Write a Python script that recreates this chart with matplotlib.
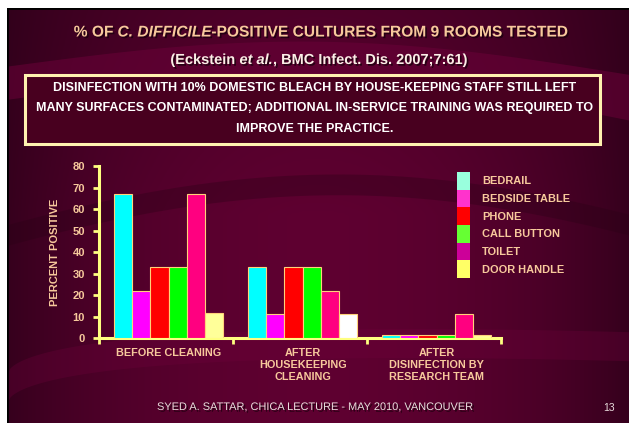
import numpy as np
import matplotlib
matplotlib.use("Agg")
import matplotlib.pyplot as plt
import matplotlib.patheffects as pe
from matplotlib.patches import Patch, Rectangle

plt.rcParams['font.family'] = ['Liberation Sans', 'DejaVu Sans']

# data
groups = ["BEFORE CLEANING", "AFTER\nHOUSEKEEPING\nCLEANING", "AFTER\nDISINFECTION BY\nRESEARCH TEAM"]
surfaces = ["BEDRAIL", "BEDSIDE TABLE", "PHONE", "CALL BUTTON", "TOILET", "DOOR HANDLE"]
bedrail = [67, 33, 1.2]
bedside_table = [22, 11, 1.2]
phone = [33, 33, 1.2]
call_button = [33, 33, 1.2]
toilet = [67, 22, 11]
door_handle = [11.5, 11, 1.2]
series = [bedrail, bedside_table, phone, call_button, toilet, door_handle]

bar_colors = ["#00ffff", "#ff00ff", "#ff0000", "#00ff00", "#ff0080", "#ffff99"]
door_colors = ["#ffff99", "#ffffff", "#ffff99"]
legend_colors = ["#99ffdd", "#ff33cc", "#ff0000", "#66ff33", "#cc0099", "#ffff66"]

peach = "#f7c99c"
yellow = "#ffff80"

fig = plt.figure(figsize=(6.29, 4.23), dpi=100)
fig.patch.set_facecolor("white")
renderer = fig.canvas.get_renderer()

# slide background
bg = fig.add_axes([7 / 629, 0, 1 - 7 / 629, 1 - 8 / 423])
bg.set_xlim(0, 1)
bg.set_ylim(0, 1)
bg.axis("off")
xx = np.linspace(0, 1, 300)
yy = np.linspace(0, 1, 200)
X, Y = np.meshgrid(xx, yy)
w = np.clip(1 - ((X - 0.5) / 0.55) ** 2, 0, 1) ** 0.8 * np.clip(0.4 + 0.6 * (1 - Y) + 0.3, 0, 1)
c_dark = np.array([0.16, 0.0, 0.09])
c_mid = np.array([0.37, 0.0, 0.19])
img = c_dark[None, None, :] + (c_mid - c_dark)[None, None, :] * w[:, :, None]
bg.imshow(img, extent=[0, 1, 0, 1], origin="lower", aspect="auto", zorder=0)
# swirl bands
t = np.linspace(0, 1, 200)
bg.fill_between(t, 0.78 - 0.05 * t + 0.08 * np.sin(np.pi * t),
                0.86 - 0.02 * t + 0.07 * np.sin(np.pi * t),
                color="#6a0038", alpha=0.55, lw=0, zorder=1)
bg.fill_between(t, 0.45 + 0.2 * np.sin(2.2 * t + 0.4) - 0.1,
                0.5 + 0.2 * np.sin(2.2 * t + 0.4) - 0.1,
                color="#2a0016", alpha=0.35, lw=0, zorder=1)
bg.fill_between(t, 0.05 + 0.35 * t ** 0.6 - 0.25 * t,
                0.12 + 0.35 * t ** 0.6 - 0.25 * t,
                color="#70003c", alpha=0.3, lw=0, zorder=1)
bg.add_line(plt.Line2D([0, 0], [0, 1], color="black", lw=2, zorder=2))
bg.add_line(plt.Line2D([0, 1], [1, 1], color="black", lw=2, zorder=2))

shadow = [pe.SimplePatchShadow(offset=(1.2, -1.2), shadow_rgbFace="#200010", alpha=0.9), pe.Normal()]


def text_runs(xc, y, runs, **kw):
    # draw a line made of normal / italic pieces, centred at xc (figure coords)
    pieces = []
    for s, style in runs:
        tt = fig.text(0, y, s, style=style, va="center", ha="left", **kw)
        pieces.append(tt)
    widths = [p.get_window_extent(renderer).width / fig.bbox.width for p in pieces]
    x0 = xc - sum(widths) / 2
    for p, wd in zip(pieces, widths):
        p.set_x(x0)
        x0 += wd


text_runs(0.508, 1 - 32 / 423,
          [("% OF ", "normal"), ("C. DIFFICILE", "italic"),
           ("-POSITIVE CULTURES FROM 9 ROOMS TESTED", "normal")],
          color=peach, fontsize=11.2, fontweight="bold", path_effects=shadow)
text_runs(0.508, 1 - 60 / 423,
          [("(Eckstein ", "normal"), ("et al.", "italic"),
           (", BMC Infect. Dis. 2007;7:61)", "normal")],
          color="#fbeee6", fontsize=10.5, fontweight="bold", path_effects=shadow)

box = Rectangle((25 / 629, 1 - 144 / 423), 575 / 629, 69 / 423, transform=fig.transFigure,
                facecolor="#48001f", edgecolor="#fff2b0", lw=2.2, zorder=3)
fig.patches.append(box)
box_lines = ["DISINFECTION WITH 10% DOMESTIC BLEACH BY HOUSE-KEEPING STAFF STILL LEFT",
             "MANY SURFACES CONTAMINATED; ADDITIONAL IN-SERVICE TRAINING WAS REQUIRED TO",
             "IMPROVE THE PRACTICE."]
for i, line in enumerate(box_lines):
    fig.text(0.5, 1 - (88 + 20.5 * i) / 423, line, ha="center", va="center",
             color="white", fontsize=9, fontweight="bold", zorder=4)

# chart
ax = fig.add_axes([99 / 629, 1 - 338 / 423, 402 / 629, 172 / 423])
ax.set_facecolor("none")
x = np.arange(len(groups))
bw = 0.136
for i, (vals, col) in enumerate(zip(series, bar_colors)):
    cols = door_colors if i == 5 else [col] * len(groups)
    ax.bar(x + (i - 2.5) * bw + 0.02, vals, bw, color=cols, edgecolor="#ffd27a", lw=0.8, zorder=3)

ax.set_xlim(-0.5, 2.5)
ax.set_ylim(0, 80)
ax.set_yticks(range(0, 81, 10))
ax.set_xticks([-0.5, 0.5, 1.5, 2.5])
ax.set_xticklabels([])
ax.tick_params(axis="both", colors=yellow, width=2, length=4)
ax.tick_params(axis="y", labelcolor=peach, labelsize=8, pad=6)
for lab in ax.get_yticklabels():
    lab.set_fontweight("bold")
for s in ["top", "right"]:
    ax.spines[s].set_visible(False)
for s in ["left", "bottom"]:
    ax.spines[s].set_color(yellow)
    ax.spines[s].set_linewidth(2.2)
ax.set_ylabel("PERCENT POSITIVE", color=peach, fontsize=8, fontweight="bold", labelpad=9)
for xi, g in zip(x, groups):
    ax.text(xi + 0.02, -4.5, g, ha="center", va="top", color=peach, fontsize=7.8,
            fontweight="bold", linespacing=1.3)

handles = [Patch(facecolor=c, edgecolor="none") for c in legend_colors]
leg = fig.legend(handles, surfaces, loc="upper left", bbox_to_anchor=(457 / 629, 1 - 172 / 423),
                 frameon=False, handlelength=1.2, handleheight=2.1, handletextpad=1.1,
                 labelspacing=0.0, borderpad=0.0, borderaxespad=0.0,
                 prop={"weight": "bold", "size": 7.9})
for tx in leg.get_texts():
    tx.set_color(peach)

fig.text(0.50, 1 - 407 / 423, "SYED A. SATTAR, CHICA LECTURE - MAY 2010, VANCOUVER",
         ha="center", va="center", color="#e8dcdc", fontsize=7.9,
         path_effects=shadow)
fig.text(609 / 629, 1 - 408 / 423, "13", ha="center", va="center", color="#e8dcdc", fontsize=7.5)

fig.savefig("out.png", dpi=100, facecolor=fig.get_facecolor())
